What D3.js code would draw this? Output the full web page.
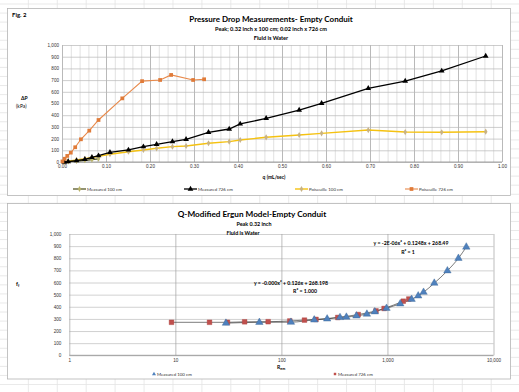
<!DOCTYPE html>
<html>
<head>
<meta charset="utf-8">
<script src="https://cdnjs.cloudflare.com/ajax/libs/d3/7.8.5/d3.min.js"></script>
<style>
body{margin:0;background:#fff;}
svg{display:block;font-family:Lato,"Open Sans",sans-serif;}
.tick text{fill:#333;}
</style>
</head>
<body>
<div class="chart"></div>
<script>
// ---- top chart data (q in mL/sec, dP in kPa)
var qTicks = [0,0.1,0.2,0.3,0.4,0.5,0.6,0.7,0.8,0.9,1.0];
var dpTicks = [0,100,200,300,400,500,600,700,800,900,1000];

var qMeas100 = [0.005,0.014,0.033,0.052,0.068,0.083];
var dpMeas100 = [1,3,8,14,20,27];

var qMeas726 = [0.005,0.014,0.033,0.052,0.068,0.083,0.109,0.151,0.185,0.215,0.251,0.282,0.333,0.38,0.405,0.464,0.539,0.59,0.696,0.78,0.863,0.963];
var dpMeas726 = [0,4,11,23,40,54,83,103,131,151,174,194,254,282,325,373,444,501,630,692,778,906];
var dpPois100 = [2,7,18,28,38,48,66,88,103,117,131,137,160,174,188,211,231,245,273,256,254,259];

var qPois726 = [0.001,0.006,0.012,0.02,0.03,0.043,0.062,0.083,0.137,0.182,0.223,0.248,0.298,0.323];
var dpPois726 = [5,28,52,80,126,194,268,359,544,691,701,744,701,707];

// ---- bottom chart data (Re_m vs f)
var reTicks = [1,10,100,1000,10000];
var fTicks = [0,100,200,300,400,500,600,700,800,900,1000];

var reM100 = [30,62,123,204,270,357,410,510,640,760,980,1320,1690,1950,2190,2765,3675,4670,5540];
var fM100 = [265,272,273,292,300,312,315,325,340,359,388,425,462,490,520,595,697,800,893];

var reM726 = [9.2,21,31,45,75,120,165,212,340,530,780,930,1410,1590];
var fM726 = [272,272,272,276,277,283,290,296,312,336,366,386,446,464];

function zip(a,b){ return a.map(function(d,i){ return [d,b[i]]; }); }

var svg = d3
.select('div.chart')
.append('svg')
.attr('width',519)
.attr('height',392)
;

// spreadsheet cells behind the charts
var bg = svg.append('g').attr('stroke','#e3e3e3').attr('stroke-width',0.8);
d3.range(-0.6,519,28.93).forEach(function(x){
    bg.append('line').attr('x1',x).attr('x2',x).attr('y1',0).attr('y2',392);
});
d3.range(4,392,9.06).forEach(function(y){
    bg.append('line').attr('x1',0).attr('x2',519).attr('y1',y).attr('y2',y);
});

// ================= TOP CHART =================
svg.append('rect')
.attr('x',7.5).attr('y',8.5).attr('width',503).attr('height',187)
.attr('fill','#fff').attr('stroke','#b5b5b5').attr('stroke-width',0.8)
;

var x1 = d3.scaleLinear().domain([0,1]).range([62,502]);
var y1 = d3.scaleLinear().domain([0,1000]).range([162,45]);

var g1 = svg.append('g');

// minor vertical grid
g1.append('g')
.attr('transform','translate(0,162)')
.call(d3.axisBottom(x1).tickValues(d3.range(0,1.0001,0.02)).tickSize(-117).tickFormat(''))
.call(function(g){
    g.select('.domain').remove();
    g.selectAll('line').attr('stroke','#d4d4d4').attr('stroke-width',0.7);
})
;
// major vertical grid + labels
g1.append('g')
.attr('transform','translate(0,162)')
.call(d3.axisBottom(x1).tickValues(qTicks).tickSize(-117).tickPadding(3).tickFormat(d3.format('.2f')))
.call(function(g){
    g.select('.domain').remove();
    g.selectAll('line').attr('stroke','#a8a8a8').attr('stroke-width',0.7);
    g.selectAll('text').attr('font-size',4.6);
})
;
// horizontal grid + labels
g1.append('g')
.attr('transform','translate(62,0)')
.call(d3.axisLeft(y1).tickValues(dpTicks).tickSize(-440).tickPadding(3).tickFormat(d3.format(',')))
.call(function(g){
    g.select('.domain').remove();
    g.selectAll('line').attr('stroke','#b8b8b8').attr('stroke-width',0.7);
    g.selectAll('text').attr('font-size',4.6);
})
;
g1.append('line')
.attr('x1',62).attr('x2',502).attr('y1',162).attr('y2',162)
.attr('stroke','#8a8a8a').attr('stroke-width',0.8)
;

var line1 = d3.line()
.x(function(d){ return x1(d[0]); })
.y(function(d){ return y1(d[1]); })
;

var topSeries = [
    {name:'Measured 100 cm', data:zip(qMeas100,dpMeas100), stroke:'#4a4a14', width:1.2, sym:d3.symbolDiamond, size:10, fill:'#b9b36a'},
    {name:'Measured 726 cm', data:zip(qMeas726,dpMeas726), stroke:'#000', width:1.3, sym:d3.symbolTriangle, size:14, fill:'#000'},
    {name:'Poiseuille 100 cm', data:zip(qMeas726,dpPois100), stroke:'#f5c211', width:1.4, sym:d3.symbolDiamond, size:11, fill:'#c8b283'},
    {name:'Poiseuille 726 cm', data:zip(qPois726,dpPois726), stroke:'#e8894a', width:1.1, sym:d3.symbolSquare, size:14, fill:'#e07b39'}
];
var drawOrder = [2,0,1,3];

drawOrder.forEach(function(i){
    var s = topSeries[i];
    g1.append('path')
    .datum(s.data)
    .attr('d',line1)
    .attr('fill','none')
    .attr('stroke',s.stroke)
    .attr('stroke-width',s.width)
    ;
    g1.selectAll(null)
    .data(s.data)
    .enter()
    .append('path')
    .attr('transform',function(d){ return 'translate(' + x1(d[0]) + ',' + y1(d[1]) + ')'; })
    .attr('d',d3.symbol().type(s.sym).size(s.size))
    .attr('fill',s.fill)
    ;
});

// titles
svg.append('text').attr('x',12).attr('y',17).attr('font-size',6).attr('font-weight',700).text('Fig. 2');
svg.append('text').attr('x',271).attr('y',22).attr('text-anchor','middle').attr('font-size',8).attr('font-weight',700)
.text('Pressure Drop Measurements- Empty Conduit');
svg.append('text').attr('x',271).attr('y',31).attr('text-anchor','middle').attr('font-size',5.6).attr('font-weight',700)
.text('Peak; 0.32 inch x 100 cm; 0.02 inch x 726 cm');
svg.append('text').attr('x',271).attr('y',39.5).attr('text-anchor','middle').attr('font-size',5.6).attr('font-weight',700)
.text('Fluid is Water');

svg.append('text').attr('x',21).attr('y',100).attr('font-size',5).attr('font-weight',700).text('ΔP');
svg.append('text').attr('x',16).attr('y',108).attr('font-size',5).text('(kPa)');
svg.append('text').attr('x',274).attr('y',179).attr('text-anchor','middle').attr('font-size',5).attr('font-weight',700).text('q (mL/sec)');

// legend
var legX = [73,184,295,405];
topSeries.forEach(function(s,i){
    var lg = svg.append('g').attr('transform','translate(' + legX[i] + ',189)');
    lg.append('line').attr('x1',0).attr('x2',13).attr('stroke',s.stroke).attr('stroke-width',s.width);
    lg.append('path').attr('transform','translate(6.5,0)').attr('d',d3.symbol().type(s.sym).size(s.size)).attr('fill',s.fill);
    lg.append('text').attr('x',14).attr('y',1.6).attr('font-size',4.4).attr('fill','#333').text(s.name);
});

// ================= BOTTOM CHART =================
svg.append('rect')
.attr('x',7.5).attr('y',203.5).attr('width',503).attr('height',175.5)
.attr('fill','#fff').attr('stroke','#b5b5b5').attr('stroke-width',0.8)
;

var x2 = d3.scaleLog().domain([1,10000]).range([69.3,493.5]);
var y2 = d3.scaleLinear().domain([0,1000]).range([355.3,234]);

var g2 = svg.append('g');

g2.append('g')
.attr('transform','translate(69.3,0)')
.call(d3.axisLeft(y2).tickValues(fTicks).tickSize(-424.2).tickPadding(8).tickFormat(d3.format(',')))
.call(function(g){
    g.select('.domain').remove();
    g.selectAll('line').attr('stroke','#bdbdbd').attr('stroke-width',0.7);
    g.selectAll('text').attr('font-size',4.6);
})
;
g2.append('g')
.attr('transform','translate(0,355.3)')
.call(d3.axisBottom(x2).tickValues(reTicks).tickSize(-121.3).tickPadding(3).tickFormat(d3.format(',')))
.call(function(g){
    g.select('.domain').remove();
    g.selectAll('line').attr('stroke','#a0a0a0').attr('stroke-width',0.7);
    g.selectAll('text').attr('font-size',4.6);
})
;
g2.append('line')
.attr('x1',69.3).attr('x2',493.5).attr('y1',355.3).attr('y2',355.3)
.attr('stroke','#8a8a8a').attr('stroke-width',0.8)
;

var line2 = d3.line()
.curve(d3.curveMonotoneX)
.x(function(d){ return x2(d[0]); })
.y(function(d){ return y2(d[1]); })
;

var d100 = zip(reM100,fM100);
var d726 = zip(reM726,fM726);

// trend lines
[d726,d100].forEach(function(d){
    g2.append('path')
    .datum(d)
    .attr('d',line2)
    .attr('fill','none')
    .attr('stroke','#222')
    .attr('stroke-width',0.6)
    ;
});

g2.selectAll('.m726')
.data(d726)
.enter()
.append('path')
.attr('class','m726')
.attr('transform',function(d){ return 'translate(' + x2(d[0]) + ',' + y2(d[1]) + ')'; })
.attr('d',d3.symbol().type(d3.symbolSquare).size(22))
.attr('fill','#c0504d')
.attr('stroke','#a8403d')
.attr('stroke-width',0.4)
;
g2.selectAll('.m100')
.data(d100)
.enter()
.append('path')
.attr('class','m100')
.attr('transform',function(d){ return 'translate(' + x2(d[0]) + ',' + y2(d[1]) + ')'; })
.attr('d',d3.symbol().type(d3.symbolTriangle).size(24))
.attr('fill','#4f81bd')
.attr('stroke','#3a6596')
.attr('stroke-width',0.4)
;

// titles
svg.append('text').attr('x',252).attr('y',216.5).attr('text-anchor','middle').attr('font-size',8.2).attr('font-weight',700)
.text('Q-Modified Ergun Model-Empty Conduit');
svg.append('text').attr('x',254).attr('y',226).attr('text-anchor','middle').attr('font-size',5.4).attr('font-weight',700)
.text('Peak 0.32 inch');
svg.append('text').attr('x',243).attr('y',234.5).attr('text-anchor','middle').attr('font-size',5.4).attr('font-weight',700)
.text('Fluid is Water');

var yl = svg.append('text').attr('x',16).attr('y',286).attr('font-size',5.5).attr('font-weight',700);
yl.append('tspan').text('f');
yl.append('tspan').attr('font-size',3.8).attr('dy',1.4).text('f');
var xl = svg.append('text').attr('x',277).attr('y',368.5).attr('font-size',5).attr('font-weight',700);
xl.append('tspan').text('R');
xl.append('tspan').attr('font-size',3.6).attr('dy',1.2).text('em');

// equations
svg.append('text').attr('x',411).attr('y',245).attr('text-anchor','middle').attr('font-size',5.2).attr('font-weight',700)
.text('y = -2E-06x² + 0.1248x + 268.49');
svg.append('text').attr('x',408).attr('y',254).attr('text-anchor','middle').attr('font-size',5.2).attr('font-weight',700)
.text('R² = 1');
svg.append('text').attr('x',291).attr('y',284.5).attr('text-anchor','middle').attr('font-size',5.2).attr('font-weight',700)
.text('y = -0.000x² + 0.126x + 268.198');
svg.append('text').attr('x',305).attr('y',292.5).attr('text-anchor','middle').attr('font-size',5.2).attr('font-weight',700)
.text('R² = 1.000');

// legend
var lg1 = svg.append('g').attr('transform','translate(154,374)');
lg1.append('path').attr('d',d3.symbol().type(d3.symbolTriangle).size(7)).attr('fill','#4f81bd');
lg1.append('text').attr('x',3).attr('y',1.6).attr('font-size',4.4).attr('fill','#333').text('Measured 100 cm');
var lg2 = svg.append('g').attr('transform','translate(335,374)');
lg2.append('path').attr('d',d3.symbol().type(d3.symbolSquare).size(6)).attr('fill','#c0504d');
lg2.append('text').attr('x',3).attr('y',1.6).attr('font-size',4.4).attr('fill','#333').text('Measured 726 cm');
</script>
</body>
</html>
